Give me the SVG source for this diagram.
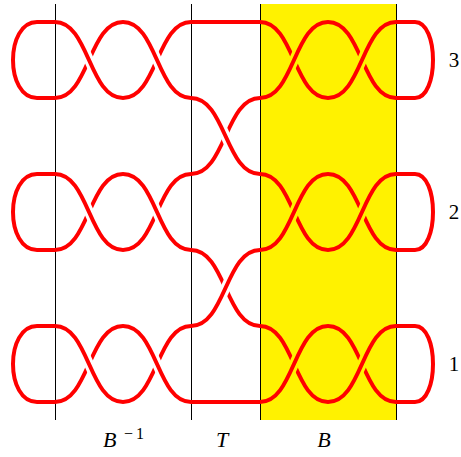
<svg xmlns="http://www.w3.org/2000/svg" width="461" height="457" viewBox="0 0 461 457">
<style>
.s{fill:none;stroke:#FF0000;stroke-width:4}
.hw{stroke:#FFFFFF;stroke-width:10}
.hy{stroke:#FFF200;stroke-width:10}
.v{stroke:#000000;stroke-width:1}
</style>
<rect width="461" height="457" fill="#FFFFFF"/>
<g id="band-B">
<rect x="260" y="4" width="136" height="416" fill="#FFF200"/>
</g>
<g id="dividers">
<line class="v" x1="55.5" y1="4" x2="55.5" y2="420"/>
<line class="v" x1="191.5" y1="4" x2="191.5" y2="420"/>
<line class="v" x1="260.5" y1="4" x2="260.5" y2="420"/>
<line class="v" x1="396.5" y1="4" x2="396.5" y2="420"/>
</g>
<g id="strands">
<path class="s" d="M55,22 L37,22 C5,22 5,98 37,98 L55,98"/>
<path class="s" d="M55,174 L37,174 C5,174 5,250 37,250 L55,250"/>
<path class="s" d="M55,326 L37,326 C5,326 5,402 37,402 L55,402"/>
<path class="s" d="M396,22 L415,22 C439,22 439,98 415,98 L396,98"/>
<path class="s" d="M396,174 L415,174 C439,174 439,250 415,250 L396,250"/>
<path class="s" d="M396,326 L415,326 C439,326 439,402 415,402 L396,402"/>
<path class="s" d="M55,98 C89,98 89,22 123,22 M123,98 C157,98 157,22 191,22"/>
<path class="s" d="M55,250 C89,250 89,174 123,174 M123,250 C157,250 157,174 191,174"/>
<path class="s" d="M55,402 C89,402 89,326 123,326 M123,402 C157,402 157,326 191,326"/>
<path class="s" d="M260,22 C294,22 294,98 328,98 M328,22 C362,22 362,98 396,98"/>
<path class="s" d="M260,174 C294,174 294,250 328,250 M328,174 C362,174 362,250 396,250"/>
<path class="s" d="M260,326 C294,326 294,402 328,402 M328,326 C362,326 362,402 396,402"/>
<path class="s" d="M191,22 L260,22 M191,402 L260,402"/>
<path class="s" d="M191,174 C225.5,174 225.5,98 260,98"/>
<path class="s" d="M191,250 C225.5,250 225.5,326 260,326"/>
<line class="hw" x1="85.33" y1="51.78" x2="92.67" y2="68.22"/>
<line class="hw" x1="153.33" y1="51.78" x2="160.67" y2="68.22"/>
<line class="hw" x1="85.33" y1="203.78" x2="92.67" y2="220.22"/>
<line class="hw" x1="153.33" y1="203.78" x2="160.67" y2="220.22"/>
<line class="hw" x1="85.33" y1="355.78" x2="92.67" y2="372.22"/>
<line class="hw" x1="153.33" y1="355.78" x2="160.67" y2="372.22"/>
<line class="hw" x1="221.83" y1="127.78" x2="229.17" y2="144.22"/>
<line class="hw" x1="221.83" y1="296.22" x2="229.17" y2="279.78"/>
<line class="hy" x1="290.33" y1="68.22" x2="297.67" y2="51.78"/>
<line class="hy" x1="358.33" y1="68.22" x2="365.67" y2="51.78"/>
<line class="hy" x1="290.33" y1="220.22" x2="297.67" y2="203.78"/>
<line class="hy" x1="358.33" y1="220.22" x2="365.67" y2="203.78"/>
<line class="hy" x1="290.33" y1="372.22" x2="297.67" y2="355.78"/>
<line class="hy" x1="358.33" y1="372.22" x2="365.67" y2="355.78"/>
<path class="s" d="M55,22 C89,22 89,98 123,98 M123,22 C157,22 157,98 191,98"/>
<path class="s" d="M55,174 C89,174 89,250 123,250 M123,174 C157,174 157,250 191,250"/>
<path class="s" d="M55,326 C89,326 89,402 123,402 M123,326 C157,326 157,402 191,402"/>
<path class="s" d="M260,98 C294,98 294,22 328,22 M328,98 C362,98 362,22 396,22"/>
<path class="s" d="M260,250 C294,250 294,174 328,174 M328,250 C362,250 362,174 396,174"/>
<path class="s" d="M260,402 C294,402 294,326 328,326 M328,402 C362,402 362,326 396,326"/>
<path class="s" d="M191,98 C225.5,98 225.5,174 260,174"/>
<path class="s" d="M191,326 C225.5,326 225.5,250 260,250"/>
</g>
<g id="labels" font-family="'Liberation Serif', 'DejaVu Serif', serif" fill="#000000">
<text x="103" y="447" font-size="22" font-style="italic">B</text>
<text y="439" font-size="16"><tspan x="124">−</tspan><tspan x="136">1</tspan></text>
<text x="222" y="447" font-size="22" font-style="italic" text-anchor="middle">T</text>
<text x="324" y="447" font-size="22" font-style="italic" text-anchor="middle">B</text>
<text x="454" y="67" font-size="21" text-anchor="middle">3</text>
<text x="454" y="219" font-size="21" text-anchor="middle">2</text>
<text x="454" y="371" font-size="21" text-anchor="middle">1</text>
</g>
</svg>
